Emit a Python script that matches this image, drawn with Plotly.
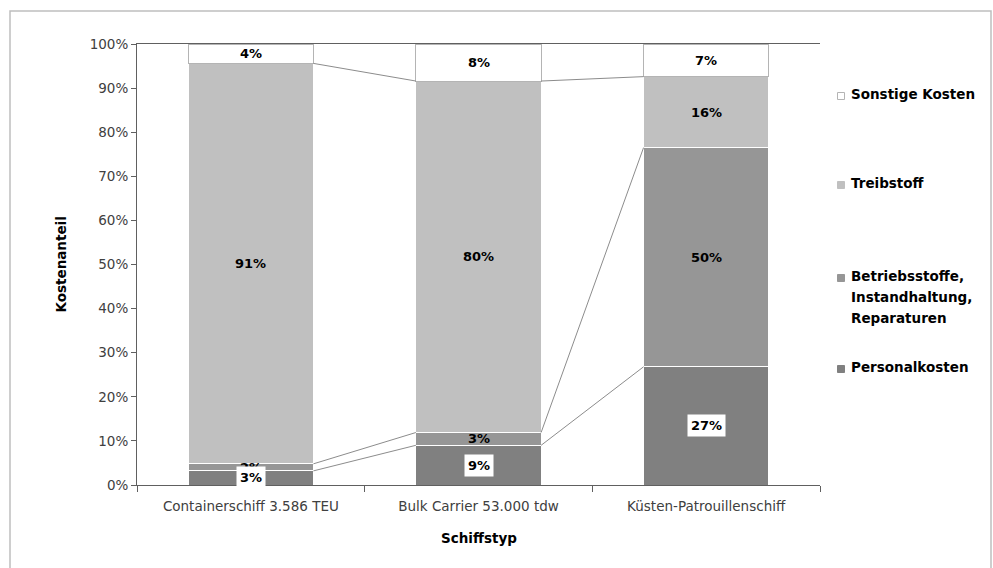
import plotly.graph_objects as go

# ---------------- data ----------------
categories = ["Containerschiff 3.586 TEU", "Bulk Carrier 53.000 tdw", "Küsten-Patrouillenschiff"]
series_names = ["Personalkosten", "Betriebsstoffe, Instandhaltung, Reparaturen", "Treibstoff", "Sonstige Kosten"]
personalkosten = [3.2, 9.0, 26.8]
betriebsstoffe = [1.6, 2.9, 49.7]
treibstoff = [90.8, 79.7, 16.1]
sonstige = [4.4, 8.4, 7.4]
y_tick_values = [0, 10, 20, 30, 40, 50, 60, 70, 80, 90, 100]
y_tick_labels = ["0%", "10%", "20%", "30%", "40%", "50%", "60%", "70%", "80%", "90%", "100%"]

series_values = [personalkosten, betriebsstoffe, treibstoff, sonstige]
fill_colors = ["#808080", "#969696", "#C0C0C0", "#FFFFFF"]
edge_colors = ["#FFFFFF", "#FFFFFF", "#FFFFFF", "#B4B4B4"]

FONT = "DejaVu Sans, Liberation Sans, Arial, sans-serif"
BAR_W = 0.55

fig = go.Figure()

# stacked bars
for name, vals, fc, ec in zip(series_names, series_values, fill_colors, edge_colors):
    fig.add_trace(go.Bar(
        x=categories, y=vals, name=name, width=BAR_W,
        marker=dict(color=fc, line=dict(color=ec, width=1)),
        hoverinfo="skip", showlegend=False,
    ))

# cumulative tops
cum = []
running = [0.0] * len(categories)
for vals in series_values:
    base = running[:]
    running = [b + v for b, v in zip(running, vals)]
    cum.append((base, running[:]))

# series lines (connect tops of each series between neighbouring bars)
half = BAR_W / 2
for s in range(3):
    tops = cum[s][1]
    for i in range(len(categories) - 1):
        fig.add_trace(go.Scatter(
            x=[i + half, i + 1 - half], y=[tops[i], tops[i + 1]],
            mode="lines", line=dict(color="#8C8C8C", width=1),
            xaxis="x2", yaxis="y", hoverinfo="skip", showlegend=False,
        ))

# data labels
annotations = []
for s in [1, 2, 3, 0]:
    base, top = cum[s]
    for i, cat in enumerate(categories):
        v = series_values[s][i]
        ann = dict(
            x=cat, y=base[i] + v / 2, xref="x", yref="y",
            text=f"<b>{round(v)}%</b>", showarrow=False,
            font=dict(family=FONT, size=13, color="#000000"),
        )
        if s == 0:
            ann.update(bgcolor="#FFFFFF", borderpad=3)
        annotations.append(ann)

# axis titles
annotations.append(dict(
    x=(50 - 137) / 683, y=0.5, xref="paper", yref="paper",
    text="<b>Kostenanteil</b>", textangle=-90, showarrow=False,
    font=dict(family=FONT, size=13.5, color="#000000"),
))
annotations.append(dict(
    x=0.5, y=(485 - 548) / 441, xref="paper", yref="paper",
    text="<b>Schiffstyp</b>", showarrow=False,
    font=dict(family=FONT, size=13.5, color="#000000"),
))

# manual legend (right side)
shapes = []
legend_rows = [
    (3, 94),
    (2, 183),
    (1, 276),
    (0, 367),
]
for s, ypix in legend_rows:
    ypaper = (485 - ypix) / 441
    shapes.append(dict(
        type="rect", xref="paper", yref="paper",
        xsizemode="pixel", ysizemode="pixel",
        xanchor=(841 - 137) / 683, yanchor=ypaper - 2 / 441,
        x0=-3.5, x1=3.5, y0=-3.5, y1=3.5,
        fillcolor=fill_colors[s],
        line=dict(color="#B4B4B4" if s == 3 else fill_colors[s], width=1),
    ))
    parts = series_names[s].split(" ") if s == 1 else [series_names[s]]
    for k, part in enumerate(parts):
        annotations.append(dict(
            x=(849 - 137) / 683, y=(485 - (ypix + 21 * k)) / 441,
            xref="paper", yref="paper", xanchor="left", yanchor="middle",
            text=f"<b>{part}</b>", showarrow=False,
            font=dict(family=FONT, size=13.5, color="#000000"),
        ))

# outer chart border
shapes.append(dict(
    type="rect", xref="paper", yref="paper",
    x0=(10 - 137) / 683, x1=(991 - 137) / 683,
    y0=(485 - 575) / 441, y1=1 + (44 - 11) / 441,
    line=dict(color="#BEBEBE", width=1.5), fillcolor="rgba(0,0,0,0)", layer="below",
))

fig.update_layout(
    width=993, height=568,
    margin=dict(l=137, r=173, t=44, b=83),
    paper_bgcolor="#FFFFFF", plot_bgcolor="#FFFFFF",
    barmode="stack",
    showlegend=False,
    font=dict(family=FONT, size=13, color="#404040"),
    xaxis=dict(
        type="category", showline=True, linecolor="#606060", linewidth=1, mirror=True,
        ticks="outside", tickson="boundaries", ticklen=6, tickcolor="#606060",
        showgrid=False, zeroline=False, ticklabelstandoff=9,
        tickfont=dict(family=FONT, size=13.5, color="#404040"),
        range=[-0.5, 2.5],
    ),
    xaxis2=dict(
        overlaying="x", range=[-0.5, 2.5], visible=False, showgrid=False, zeroline=False,
    ),
    yaxis=dict(
        range=[0, 100], tickvals=y_tick_values, ticktext=y_tick_labels,
        showline=True, linecolor="#606060", linewidth=1,
        ticks="outside", ticklen=5, tickcolor="#606060",
        showgrid=False, zeroline=False,
        tickfont=dict(family=FONT, size=13.5, color="#404040"),
    ),
    annotations=annotations,
    shapes=shapes,
)

fig.write_html("out.html")
